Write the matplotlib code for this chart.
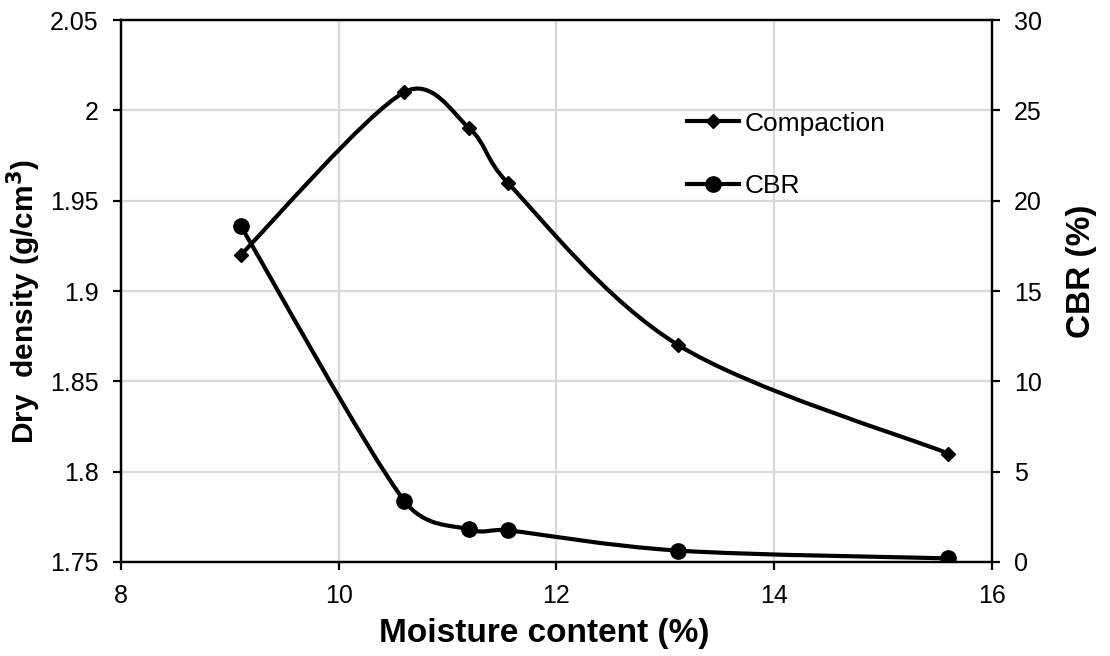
import numpy as np
import matplotlib
matplotlib.use('Agg')
import matplotlib.pyplot as plt
from matplotlib.path import Path
from matplotlib.patches import PathPatch
from matplotlib.lines import Line2D

plt.rcParams['font.family'] = ['Liberation Sans', 'DejaVu Sans']

moisture = [9.1, 10.6, 11.2, 11.55, 13.12, 15.6]
dry_density = [1.92, 2.01, 1.99, 1.96, 1.87, 1.81]
cbr = [18.6, 3.4, 1.8, 1.75, 0.63, 0.2]


def smooth_path(a, x, y):
	# smoothed line like excel: catmull-rom bezier in screen space,
	# tangents shortened next to short segments
	p = a.transData.transform(np.column_stack([x, y]))
	p = np.vstack([p[:1], p, p[-1:]])
	d = np.hypot(*np.diff(p, axis=0).T)
	verts = [p[1]]
	codes = [Path.MOVETO]
	for i in range(1, len(p) - 2):
		f1 = min(1 / 6, 0.5 * d[i] / (d[i - 1] + d[i]))
		f2 = min(1 / 6, 0.5 * d[i] / (d[i] + d[i + 1]))
		c1 = p[i] + (p[i + 1] - p[i - 1]) * f1
		c2 = p[i + 1] - (p[i + 2] - p[i]) * f2
		verts += [c1, c2, p[i + 1]]
		codes += [Path.CURVE4] * 3
	verts = a.transData.inverted().transform(np.array(verts))
	return Path(verts, codes)


fig = plt.figure(figsize=(11.1, 6.56), dpi=100)
ax = fig.add_axes([0.109, 0.1433, 0.7847, 0.8262])
ax2 = ax.twinx()

ax.set_xlim(8, 16)
ax.set_ylim(1.75, 2.05)
ax2.set_ylim(0, 30)

ax.add_patch(PathPatch(smooth_path(ax, moisture, dry_density), fill=False, lw=3, color='k', zorder=3))
ax.plot(moisture, dry_density, 'kD', ms=7.5, zorder=4)
ax2.add_patch(PathPatch(smooth_path(ax2, moisture, cbr), fill=False, lw=3, color='k', zorder=3))
ax2.plot(moisture, cbr, 'ko', ms=11, zorder=4)

ax.set_xticks([8, 10, 12, 14, 16])
ax.set_yticks([1.75, 1.8, 1.85, 1.9, 1.95, 2.0, 2.05])
ax.set_yticklabels(['1.75', '1.8', '1.85', '1.9', '1.95', '2', '2.05'])
ax2.set_yticks([0, 5, 10, 15, 20, 25, 30])

ax.grid(True, color='#d9d9d9', lw=1.6)
ax.set_axisbelow(True)
for a in (ax, ax2):
	for s in a.spines.values():
		s.set_linewidth(1.6)
	a.tick_params(direction='out', length=6, width=1.6, labelsize=18, pad=10)

ax.set_xlabel('Moisture content (%)', fontsize=24, fontweight='bold', labelpad=7)
ax.xaxis.label.set_x(0.486)
ax.set_ylabel('Dry  density (g/cm$^\\mathbf{3}$)', fontsize=21.5, fontweight='bold', labelpad=5)
ax.yaxis.label.set_y(0.48)
ax2.set_ylabel('CBR (%)', fontsize=24, fontweight='bold', labelpad=17)
ax2.yaxis.label.set_y(0.537)

handles = [
	Line2D([], [], color='k', lw=3, marker='D', ms=7.5),
	Line2D([], [], color='k', lw=3, marker='o', ms=11),
]
ax2.legend(handles, ['Compaction', 'CBR'], loc='upper left', bbox_to_anchor=(0.622, 0.875),
	frameon=False, fontsize=19, handlelength=2.0, handletextpad=0.2, labelspacing=1.45)

fig.savefig('out.png', dpi=100)
